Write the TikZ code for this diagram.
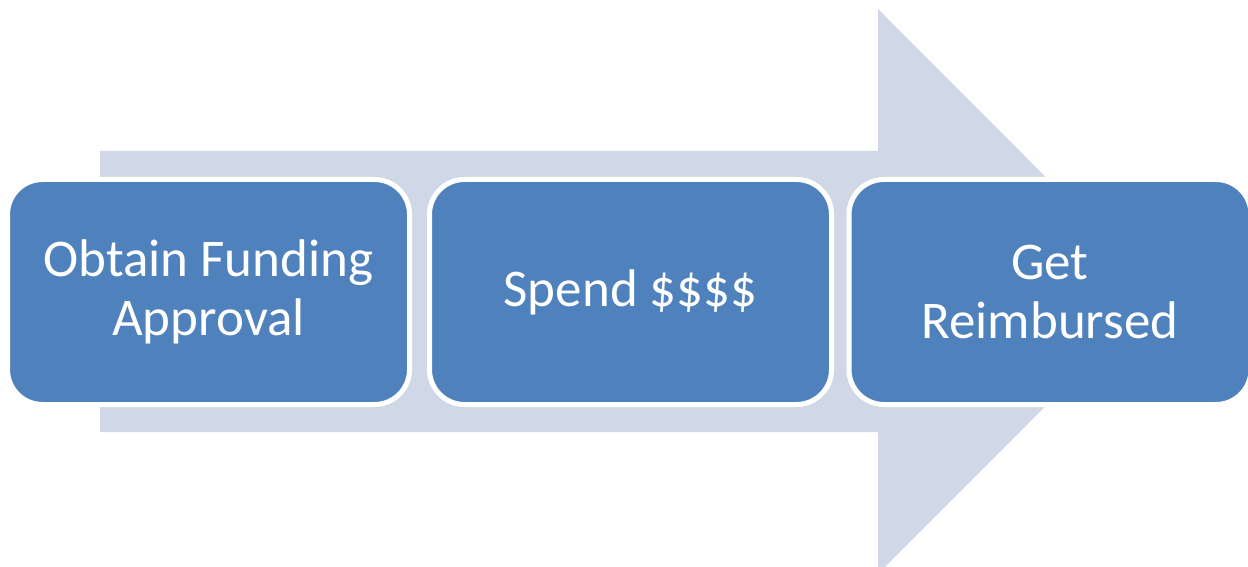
\documentclass[tikz,border=0pt]{standalone}
\usepackage{fontspec}
\setmainfont{Carlito}
\definecolor{boxblue}{HTML}{4F81BD}
\definecolor{arrowgray}{HTML}{D0D8E8}
\begin{document}
\begin{tikzpicture}[x=1pt,y=-1pt,
  stepbox/.style={rectangle, draw=white, line width=5pt, fill=boxblue,
    rounded corners=35pt, minimum width=402pt, minimum height=225pt,
    inner sep=0pt, align=center, text=white,
    font=\fontsize{53pt}{59pt}\selectfont}]
\useasboundingbox (0,0) rectangle (1248,567);
\fill[arrowgray] (100,151) -- (878,151) -- (878,9) -- (1160,291.5) -- (878,574) -- (878,432) -- (100,432) -- cycle;
\node[stepbox] (a) at (208.5,292) {Obtain Funding\\Approval};
\node[stepbox] (b) at (630.5,292) {Spend \$\$\$\$};
\node[stepbox] (c) at (1050,292) {Get\\Reimbursed};
\end{tikzpicture}
\end{document}
